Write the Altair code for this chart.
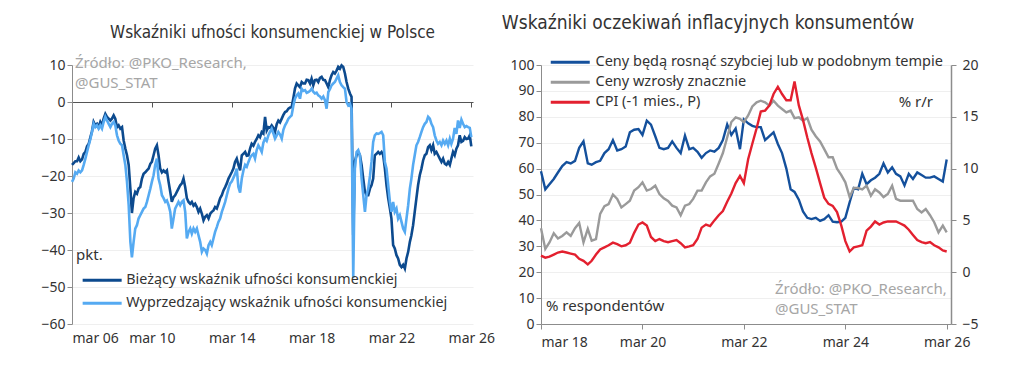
import altair as alt
import pandas as pd

# ---------------- Left panel data (monthly, Mar 2006 .. Mar 2026) ----------------
left_start = "2006-03-01"
cur_name = "Bieżący wskaźnik ufności konsumenckiej"
lead_name = "Wyprzedzający wskaźnik ufności konsumenckiej"

current_idx = [
    -17, -16.5, -16, -16, -15, -16, -15.5, -14, -13.5, -12, -11.3, -9.5,
    -8, -5.4, -6.3, -5.9, -6.8, -5.4, -6.3, -4.5, -3.2, -4, -4.5, -5,
    -4.5, -3.6, -4.5, -6.8, -6.3, -7.2, -6.8, -10.4, -12.6, -14.4, -17, -23.4,
    -30, -26, -24.3, -24.8, -23.4, -23, -20.7, -19.4, -19, -18.5, -18, -16.7,
    -16.2, -14.4, -12.6, -11.7, -14.4, -18, -19, -18.5, -19, -18.5, -21.6, -24.3,
    -27, -25.7, -25.2, -24.3, -23.4, -22.5, -22, -20.7, -23, -26, -27, -27.5,
    -27, -28, -27.5, -28.4, -29.7, -28.8, -30.2, -32, -31, -30.6, -31.5, -30.2,
    -29.7, -29.3, -28.4, -28.8, -27.5, -26, -25.2, -23.9, -23, -22, -20.7, -19.8,
    -19, -18, -16.2, -15.3, -17, -18.5, -14.4, -14, -13.5, -14.5, -14.4, -12.5,
    -11.3, -11.8, -10.8, -10, -9, -9.5, -8.1, -8.5, -4, -7.7, -6.8, -7,
    -6.3, -7, -8.1, -6, -5, -5.5, -4.5, -3.5, -2.7, -2.5, -1.8, -1.5,
    -1.4, 1, 3.6, 5, 4.5, 4, 5.4, 5, 5, 6, 5.9, 5,
    6.3, 4.5, 5.9, 6, 5.4, 6.5, 6.8, 6, 5.9, 5, 4, 6,
    7.2, 8.1, 7.7, 8.5, 9.5, 9, 9.9, 9.5, 7.7, 5.4, 3.6, 2.3,
    1.4, -36, -16, -14.4, -13.5, -14.4, -17, -20.7, -24.3, -25.2, -25.2, -23.4,
    -22.5, -20.7, -14.4, -14, -13.5, -14, -13.5, -14.4, -18, -22.5, -26, -28.8,
    -31.5, -38.7, -39.6, -41.4, -42.3, -44, -44.6, -44, -45, -42.3, -40.5, -37.8,
    -36, -33.3, -29.7, -26, -22.5, -19.8, -18, -15.8, -14.4, -14, -12.2, -11.7,
    -13, -11.7, -14, -13.5, -14.4, -15.3, -16.2, -15.3, -16.7, -17, -16.2, -17,
    -15.3, -13.5, -14.4, -12.6, -11.7, -9, -10.8, -10.5, -9.5, -10, -9.9, -9,
    -12,
]
leading_idx = [
    -21.6, -20.7, -19, -19.4, -18.5, -19, -18.5, -17, -15.3, -13.5, -11.7, -10,
    -8.1, -5.9, -6.8, -6.3, -7.2, -6.3, -7.2, -5.4, -4, -5, -5.9, -6.8,
    -5.9, -5.4, -6.3, -9, -10.4, -11.3, -11.7, -14.4, -17, -21.6, -27.9, -37.8,
    -42, -37.8, -34.2, -33.3, -31.5, -30.6, -29.7, -28.8, -28.4, -27, -25.2, -23.4,
    -21.6, -19.8, -17, -15.3, -20.7, -22.5, -25.2, -26, -27, -26.6, -27.9, -29.7,
    -34.2, -31.5, -28.8, -27.9, -27, -27.9, -27, -26.6, -29.7, -36.9, -35.1, -34.2,
    -35.6, -34.2, -35.1, -34.2, -36, -37.8, -40.5, -39.6, -40, -41, -38.7, -37.8,
    -38.7, -36.9, -35.1, -33.8, -32.4, -31.5, -29.7, -28.4, -27, -25.2, -23.4, -22,
    -21.5, -20.5, -19.5, -18, -23, -24.5, -20.7, -18.5, -17, -17.5, -16.2, -15,
    -14.4, -14, -15.3, -13, -11.7, -12.5, -13.5, -11, -9.9, -10.5, -9, -8,
    -7.2, -8.5, -9.9, -9, -8.1, -8.8, -9.9, -7.5, -6.3, -5.5, -4.5, -4,
    -3.6, -1, 0.9, 1.8, 2.3, 0.9, 3.6, 3, 3.2, 2.5, 2.7, 3,
    3.6, 2.8, 2.3, 2.5, 1.8, 1.5, 0.9, 1.5, 0.5, -1.8, 2.7, 3.5,
    4.5, 5, 5.4, 6.3, 7.2, 5.4, 4.5, 4, 3.6, 0, -0.9, -0.5,
    -1.8, -47.5, -18, -13.5, -13, -14.4, -20.7, -25.2, -29.7, -25.2, -23.4, -20,
    -16.2, -10.8, -9, -8.5, -8.6, -8.4, -8.1, -9, -16.2, -18, -22.5, -27,
    -29.7, -27, -29.7, -28.8, -31.5, -30.6, -32.4, -34.2, -35.1, -31.5, -27.9, -23.4,
    -20.7, -17, -14.4, -11.7, -10.8, -9.5, -8.1, -6.8, -5.9, -5.4, -4, -4.5,
    -5.9, -6.8, -9, -10.4, -11.3, -10.8, -11.7, -10.4, -11.3, -10.4, -11.7, -9.9,
    -11.3, -9.9, -7, -8.6, -5, -7, -4.8, -5.9, -6.8, -6.5, -6.8, -7,
    -9.5,
]
left_ticks_years = [2006, 2010, 2014, 2018, 2022, 2026]
left_y_ticks = [-60, -50, -40, -30, -20, -10, 0, 10]

# ---------------- Right panel data (monthly, Mar 2018 .. Mar 2026) ----------------
right_start = "2018-03-01"
s_blue = "Ceny będą rosnąć szybciej lub w podobnym tempie"
s_gray = "Ceny wzrosły znacznie"
s_red = "CPI (-1 mies., P)"

prices_faster = [
    59, 52, 54, 56, 58.5, 61, 62.5, 62, 63, 68, 70.5, 62,
    61.5, 62.5, 63, 66, 67.5, 71, 67, 67.5, 68.5, 74, 75, 75.3,
    73, 78.5, 77, 72.5, 68, 67.5, 68, 70.5, 68, 66, 72.7, 67.5,
    68, 66.5, 64.2, 66, 67, 66.5, 68, 71, 77, 73, 75.5, 67.5,
    79, 77.5, 76.5, 76, 76, 71, 72.5, 74, 69.5, 66, 60, 52,
    51, 48, 43.5, 41, 40.5, 41, 39.8, 40.5, 42, 39.5, 39.3, 39.5,
    41, 47, 52.5, 52, 58, 54, 55.5, 56.5, 58, 62, 58.5, 60.5,
    58, 57, 53.5, 58, 56, 58.5, 57.5, 56.5, 56.5, 57, 56, 55,
    63.5,
]
prices_rose = [
    37, 29, 31.5, 35, 33, 34, 35.4, 34, 37, 39, 31.5, 36.7,
    32.2, 32.8, 42.5, 45.5, 46.3, 50, 48.3, 45, 46.3, 47.6, 51.5, 52.8,
    54.7, 51.5, 52.1, 53.4, 50.2, 48.5, 47.5, 45.7, 45, 42, 45.7, 46.3,
    48.3, 51.5, 51.5, 54.7, 57, 58, 62, 66, 72, 78, 79.8, 79.2,
    77.9, 80.5, 84, 85.6, 86.2, 85.6, 84.3, 86.2, 84.3, 83, 81.7, 82.4,
    79.5, 79.8, 78.5, 79.5, 75, 72.5, 70.5, 67.5, 64.4, 64.4, 60, 57.5,
    54.7, 49, 52.5, 52.5, 52, 53.4, 49.5, 52, 50.8, 49, 50.2, 53.4,
    48.3, 47.6, 47.6, 47.6, 47.6, 44.4, 43.1, 44.4, 42, 39.3, 35.4, 38,
    35.4,
]
cpi_lag = [
    1.6, 1.4, 1.5, 1.7, 1.9, 2.0, 1.9, 1.8, 1.7, 1.3, 1.1, 0.75,
    1.1, 1.7, 2.2, 2.4, 2.6, 2.85, 2.7, 2.5, 2.6, 2.85, 3.8, 4.6,
    4.8, 4.5, 3.4, 3.0, 3.2, 3.0, 2.9, 3.0, 3.1, 2.8, 2.4, 2.5,
    2.6, 3.2, 4.3, 4.6, 4.45, 5.0, 5.5, 5.9, 6.8, 7.6, 8.6, 9.3,
    8.6, 10.9, 12.4, 13.9, 15.5, 15.6, 16.1, 17.2, 17.9, 17.2, 16.6, 16.6,
    18.4, 16.1, 14.7, 13.0, 11.5, 10.1, 8.6, 7.2, 6.6, 6.4, 5.8, 4.5,
    3.0, 2.0, 2.4, 2.5, 2.6, 4.0, 4.4, 4.9, 4.6, 4.8, 4.9, 4.9,
    4.9, 4.7, 4.5, 4.1, 3.6, 3.1, 2.9, 2.8, 2.9, 2.6, 2.4, 2.1,
    2.0,
]
right_ticks_years = [2018, 2020, 2022, 2024, 2026]
right_y_left = [0, 10, 20, 30, 40, 50, 60, 70, 80, 90, 100]
right_y_right = [-5, 0, 5, 10, 15, 20]

# ---------------- style ----------------
FONT = "Noto Sans"
TITLE_FONT = "Liberation Sans Narrow, DejaVu Sans Condensed, Noto Sans"
TXT = "#333333"
AX = "#8c8c8c"
SRC = "#a6a6a6"
GRID = "#efefef"
DARK = "#0c4a8e"
LIGHT = "#55aaf2"
BLUE = "#14509c"
GRAY = "#9a9a9a"
RED = "#e3202f"

LW, LH = 401, 259
RW, RH = 410, 259

dates_l = pd.date_range(left_start, periods=len(current_idx), freq="MS")
left_df = pd.concat([
    pd.DataFrame({"date": dates_l, "series": cur_name, "value": current_idx}),
    pd.DataFrame({"date": dates_l, "series": lead_name, "value": leading_idx}),
])
left_ticks = pd.DataFrame({"date": [pd.Timestamp(f"{y}-03-01") for y in left_ticks_years]})

dates_r = pd.date_range(right_start, periods=len(prices_faster), freq="MS")
right_df = pd.concat([
    pd.DataFrame({"date": dates_r, "series": s_blue, "value": prices_faster}),
    pd.DataFrame({"date": dates_r, "series": s_gray, "value": prices_rose}),
])
cpi_df = pd.DataFrame({"date": dates_r, "series": s_red, "value": cpi_lag})

label_expr = "'mar ' + timeFormat(datum.value, '%y')"
sym = "M-3.9,0H3.9"

# ---------------- left panel ----------------
x_dom_l = [alt.DateTime(year=2006, month=3, date=1), alt.DateTime(year=2026, month=4, date=1)]
xl_scale = alt.Scale(domain=x_dom_l)

lines_l = alt.Chart(left_df).mark_line(strokeWidth=2.6).encode(
    x=alt.X("date:T", scale=xl_scale,
            axis=alt.Axis(orient="bottom", values=[alt.DateTime(year=y, month=3, date=1) for y in left_ticks_years],
                          labelExpr=label_expr, title=None, domain=False, ticks=False, grid=False,
                          labelFontSize=14, labelColor=TXT, labelFont=FONT, labelPadding=7)),
    y=alt.Y("value:Q", scale=alt.Scale(domain=[-60, 10]),
            axis=alt.Axis(values=left_y_ticks, title=None, grid=True, gridColor=GRID,
                          domainColor=AX, tickColor=AX, tickSize=5, labelPadding=2,
                          labelFontSize=14, labelColor=TXT, labelFont=FONT)),
    color=alt.Color("series:N",
                    scale=alt.Scale(domain=[cur_name, lead_name], range=[DARK, LIGHT]),
                    legend=alt.Legend(orient="none", legendX=23, legendY=208, title=None,
                                      symbolType=sym, symbolSize=100, symbolStrokeWidth=3,
                                      labelOffset=17, labelFontSize=14.3, labelColor=TXT, labelFont=FONT,
                                      rowPadding=8, padding=0, labelLimit=400)),
)

zero_axis_l = alt.Chart(left_ticks).mark_rule(opacity=0).encode(
    x=alt.X("date:T", scale=xl_scale,
            axis=alt.Axis(orient="bottom", offset=-round(LH * 60 / 70), labels=False,
                          values=[alt.DateTime(year=y, month=3, date=1) for y in left_ticks_years],
                          title=None, grid=False, domain=True, domainColor="#555555", domainWidth=1.2,
                          ticks=True, tickColor="#555555", tickSize=5)),
)

pkt_l = alt.Chart(pd.DataFrame({"t": ["pkt."]})).mark_text(
    align="left", baseline="middle", fontSize=15, color=TXT, font=FONT
).encode(x=alt.value(4), y=alt.value(190), text="t:N")

src_l = alt.Chart(pd.DataFrame({"t": ["Źródło: @PKO_Research,\n@GUS_STAT"]})).mark_text(
    align="left", baseline="middle", fontSize=15, color=SRC, font=FONT, lineBreak="\n", lineHeight=20
).encode(x=alt.value(3), y=alt.value(-2), text="t:N")

left = alt.layer(lines_l, zero_axis_l, pkt_l, src_l).resolve_axis(x="independent").properties(
    width=LW, height=LH,
    title=alt.TitleParams("Wskaźniki ufności konsumenckiej w Polsce", font=TITLE_FONT, fontSize=17,
                          fontWeight="normal", color=TXT, anchor="middle", frame="group", offset=14),
)

# ---------------- right panel ----------------
x_dom_r = [alt.DateTime(year=2018, month=3, date=1), alt.DateTime(year=2026, month=4, date=1)]
xr_scale = alt.Scale(domain=x_dom_r)
xr_axis = alt.Axis(values=[alt.DateTime(year=y, month=3, date=1) for y in right_ticks_years],
                   labelExpr=label_expr, title=None, grid=False, domainColor=AX, tickColor=AX,
                   tickSize=5, labelPadding=6, labelFontSize=14, labelColor=TXT, labelFont=FONT)
color_r = alt.Scale(domain=[s_blue, s_gray, s_red], range=[BLUE, GRAY, RED])
legend_r = alt.Legend(orient="none", legendX=22, legendY=-10, title=None,
                      symbolType=sym, symbolSize=100, symbolStrokeWidth=3,
                      labelOffset=18, labelFontSize=14.5, labelColor=TXT, labelFont=FONT,
                      rowPadding=5, padding=0, labelLimit=500)

lines_r = alt.Chart(right_df).mark_line(strokeWidth=2.4).encode(
    x=alt.X("date:T", scale=xr_scale, axis=xr_axis),
    y=alt.Y("value:Q", scale=alt.Scale(domain=[0, 100]),
            axis=alt.Axis(values=right_y_left, title=None, grid=True, gridColor=GRID,
                          domainColor=AX, tickColor=AX, tickSize=5, labelPadding=2,
                          labelFontSize=14, labelColor=TXT, labelFont=FONT)),
    color=alt.Color("series:N", scale=color_r, legend=legend_r),
)

cpi_r = alt.Chart(cpi_df).mark_line(strokeWidth=2.4).encode(
    x=alt.X("date:T", scale=xr_scale, axis=xr_axis),
    y=alt.Y("value:Q", scale=alt.Scale(domain=[-5, 20]),
            axis=alt.Axis(orient="right", values=right_y_right, title=None, grid=False,
                          domainColor=AX, domainWidth=1.5, tickColor=AX, tickSize=5, labelPadding=6,
                          labelFontSize=14, labelColor=TXT, labelFont=FONT)),
    color=alt.Color("series:N", scale=color_r, legend=legend_r),
)

rr_r = alt.Chart(pd.DataFrame({"t": ["% r/r"]})).mark_text(
    align="right", baseline="middle", fontSize=15, color=TXT, font=FONT
).encode(x=alt.value(392), y=alt.value(37), text="t:N")

resp_r = alt.Chart(pd.DataFrame({"t": ["% respondentów"]})).mark_text(
    align="left", baseline="middle", fontSize=15, color=TXT, font=FONT
).encode(x=alt.value(5), y=alt.value(241), text="t:N")

src_r = alt.Chart(pd.DataFrame({"t": ["Źródło: @PKO_Research,\n@GUS_STAT"]})).mark_text(
    align="left", baseline="middle", fontSize=15, color=SRC, font=FONT, lineBreak="\n", lineHeight=20
).encode(x=alt.value(234), y=alt.value(224), text="t:N")

right = alt.layer(lines_r, cpi_r, rr_r, resp_r, src_r).resolve_scale(y="independent").properties(
    width=RW, height=RH,
    title=alt.TitleParams("Wskaźniki oczekiwań inflacyjnych konsumentów", font=TITLE_FONT, fontSize=19,
                          fontWeight="normal", color=TXT, anchor="middle", frame="group", offset=22, dx=-38),
)

chart = alt.hconcat(left, right, spacing=6).resolve_scale(color="independent").resolve_legend(
    color="independent").configure_view(stroke=None).properties(
    padding={"left": 32, "top": 6, "right": 5, "bottom": 5}
)

chart.save("out.html", embed_options={"renderer": "svg", "actions": False})
